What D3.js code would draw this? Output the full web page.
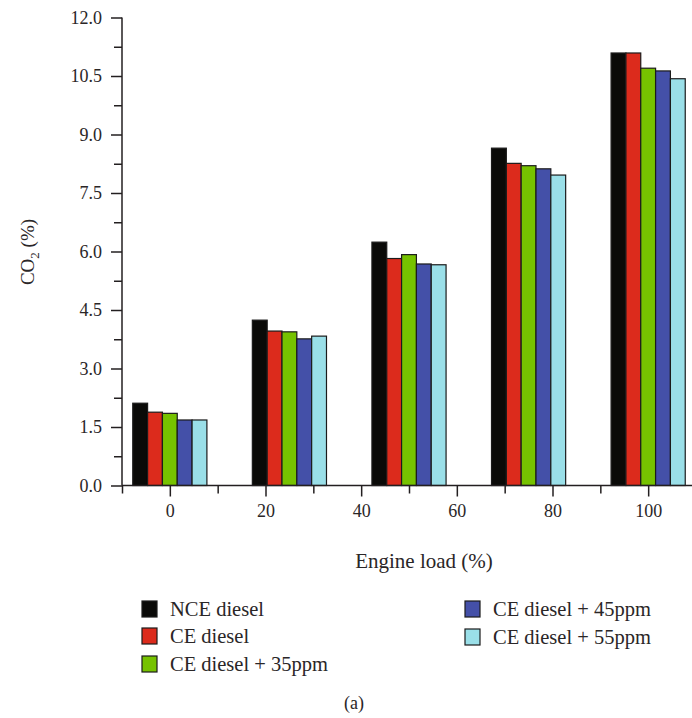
<!DOCTYPE html>
<html>
<head>
<meta charset="utf-8">
<script src="https://cdn.jsdelivr.net/npm/d3@7"></script>
<style>
  body { margin: 0; background: #fff; }
  text { font-family: "Liberation Serif", "Times New Roman", serif; fill: #2a2627; }
</style>
</head>
<body>
<div id="chart"></div>
<script>
// Bar group positions on the x axis (engine load scale)
const groupPos = [0, 25, 50, 75, 100];
const xTicks = [0, 20, 40, 60, 80, 100];
const yTicks = [0, 1.5, 3, 4.5, 6, 7.5, 9, 10.5, 12];

const seriesNames = ["NCE diesel", "CE diesel", "CE diesel + 35ppm", "CE diesel + 45ppm", "CE diesel + 55ppm"];
const nceDiesel = [2.11, 4.24, 6.24, 8.65, 11.09];
const ceDiesel = [1.88, 3.96, 5.82, 8.26, 11.09];
const ce35 = [1.85, 3.94, 5.92, 8.20, 10.70];
const ce45 = [1.68, 3.76, 5.68, 8.12, 10.63];
const ce55 = [1.68, 3.83, 5.66, 7.96, 10.43];
const colors = ["#0a0a08", "#dc2b1c", "#76c200", "#4450a8", "#9adfe8"];

const allSeries = [nceDiesel, ceDiesel, ce35, ce45, ce55];
const width = 692, height = 718;
const serif = '"Liberation Serif", "Times New Roman", serif';

const svg = d3.select("#chart").append("svg")
  .attr("width", width)
  .attr("height", height);

const x = d3.scaleLinear().domain([-10, 110]).range([122, 696]);
const y = d3.scaleLinear().domain([0, 12]).range([485.5, 17.5]);
const barW = 3.1; // bar width in x-axis units

// bars
const bars = [];
allSeries.forEach((vals, s) => {
  vals.forEach((v, i) => bars.push({ s, pos: groupPos[i], v }));
});

svg.append("g")
  .selectAll("rect")
  .data(bars)
  .join("rect")
  .attr("x", d => x(d.pos - 2.5 * barW + d.s * barW))
  .attr("y", d => y(d.v))
  .attr("width", d => x(barW) - x(0))
  .attr("height", d => y(0) - y(d.v))
  .attr("fill", d => colors[d.s])
  .attr("stroke", "#1b1b1b")
  .attr("stroke-width", 1.2);

// y axis
const yAxis = svg.append("g")
  .attr("transform", `translate(${x(-10)},0)`)
  .call(d3.axisLeft(y).tickValues(yTicks).tickSize(11).tickPadding(9).tickFormat(d3.format(".1f")));
svg.append("g")
  .attr("transform", `translate(${x(-10)},0)`)
  .call(d3.axisLeft(y).tickValues(yTicks.slice(1).map(t => t - 0.75)).tickSize(8).tickFormat(""))
  .select(".domain").remove();

// x axis
const xAxis = svg.append("g")
  .attr("transform", `translate(0,${y(0)})`)
  .call(d3.axisBottom(x).tickValues(xTicks).tickSize(11).tickPadding(8).tickFormat(d3.format("d")));
svg.append("g")
  .attr("transform", `translate(0,${y(0)})`)
  .call(d3.axisBottom(x).tickValues([-10, 10, 30, 50, 70, 90]).tickSize(8).tickFormat(""))
  .select(".domain").remove();

svg.selectAll("g").attr("font-family", serif);
svg.selectAll(".domain, .tick line")
  .attr("stroke", "#231f20")
  .attr("stroke-width", 1.5);
svg.selectAll(".tick text")
  .style("font-family", serif)
  .style("font-size", "18px")
  .attr("fill", "#2a2627");
yAxis.select(".domain").attr("d", `M0,${y(12)}V${y(0)}`);
xAxis.select(".domain").attr("d", `M${x(-10)},0H${x(110)}`);

// axis titles
const yTitle = svg.append("text")
  .attr("transform", `translate(34,252) rotate(-90)`)
  .attr("text-anchor", "middle")
  .style("font-size", "19px");
yTitle.append("tspan").text("CO");
yTitle.append("tspan").text("2").attr("dy", 5).style("font-size", "13px");
yTitle.append("tspan").text(" (%)").attr("dy", -5);

svg.append("text")
  .attr("x", 424)
  .attr("y", 568)
  .attr("text-anchor", "middle")
  .style("font-size", "21px")
  .text("Engine load (%)");

// legend
const legendPos = [
  { x: 142, y: 609 }, { x: 142, y: 636 }, { x: 142, y: 664 },
  { x: 465, y: 609 }, { x: 465, y: 637 }
];
const legend = svg.append("g")
  .selectAll("g")
  .data(seriesNames)
  .join("g")
  .attr("transform", (d, i) => `translate(${legendPos[i].x},${legendPos[i].y})`);
legend.append("rect")
  .attr("x", 0).attr("y", -8)
  .attr("width", 15).attr("height", 16)
  .attr("fill", (d, i) => colors[i])
  .attr("stroke", "#1b1b1b")
  .attr("stroke-width", 1.2);
legend.append("text")
  .attr("x", 28)
  .attr("y", 0)
  .attr("dy", "0.35em")
  .style("font-size", "20.5px")
  .text(d => d);

svg.append("text")
  .attr("x", 354)
  .attr("y", 709)
  .attr("text-anchor", "middle")
  .style("font-size", "18px")
  .text("(a)");
</script>
</body>
</html>
